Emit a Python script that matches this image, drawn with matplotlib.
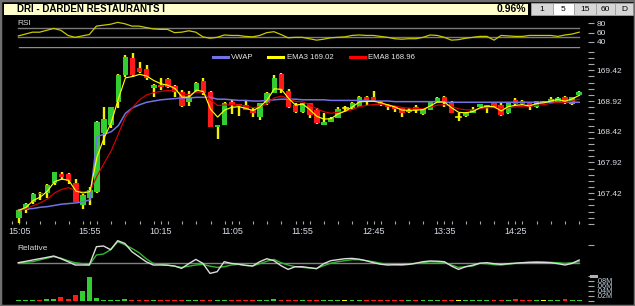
import matplotlib
matplotlib.use("Agg")
import matplotlib.pyplot as plt
from matplotlib.patches import Rectangle
import numpy as np

plt.rcParams['font.family'] = ['Liberation Sans', 'DejaVu Sans']

# ---------------- data ----------------
time_labels = ["15:05", "15:55", "10:15", "11:05", "11:55", "12:45", "13:35", "14:25"]
label_idx = [0, 10, 20, 30, 40, 50, 60, 70]

opens = [
    167.01, 167.14, 167.28, 167.43, 167.42, 167.59, 167.73, 167.73, 167.59, 167.23,
    167.34, 167.44, 168.40, 168.53, 168.90, 169.34, 169.62, 169.46, 169.44, 169.13,
    169.18, 169.28, 169.16, 169.07, 168.90, 169.08, 169.25, 169.07, 168.50, 168.53,
    168.90, 168.87, 168.86, 168.77, 168.66, 168.89, 169.05, 169.36, 169.08, 168.86,
    168.74, 168.89, 168.77, 168.53, 168.58, 168.64, 168.80, 168.81, 168.82, 168.99,
    168.99, 168.90, 168.86, 168.84, 168.81, 168.74, 168.82, 168.71, 168.77, 168.89,
    168.99, 168.90, 168.66, 168.68, 168.73, 168.82, 168.82, 168.89, 168.86, 168.72,
    168.94, 168.92, 168.89, 168.82, 168.90, 168.89, 168.90, 168.99, 168.87, 169.02]
closes = [
    167.14, 167.24, 167.41, 167.41, 167.55, 167.76, 167.69, 167.61, 167.28, 167.39,
    167.47, 168.58, 168.63, 168.82, 169.34, 169.64, 169.34, 169.39, 169.30, 169.18,
    169.15, 169.15, 169.07, 168.84, 168.99, 169.21, 169.05, 168.50, 168.53, 168.89,
    168.86, 168.84, 168.77, 168.73, 168.89, 169.05, 169.30, 169.10, 168.82, 168.74,
    168.89, 168.69, 168.56, 168.58, 168.64, 168.79, 168.80, 168.89, 168.99, 168.92,
    168.92, 168.87, 168.82, 168.79, 168.72, 168.77, 168.77, 168.79, 168.90, 168.97,
    168.90, 168.72, 168.66, 168.72, 168.77, 168.87, 168.86, 168.82, 168.69, 168.90,
    168.87, 168.87, 168.82, 168.92, 168.90, 168.95, 168.97, 168.89, 168.99, 169.07]
highs = [
    167.16, 167.26, 167.43, 167.44, 167.57, 167.77, 167.77, 167.75, 167.65, 167.41,
    167.52, 168.60, 168.82, 168.83, 169.36, 169.67, 169.70, 169.56, 169.51, 169.20,
    169.30, 169.30, 169.18, 169.10, 169.08, 169.23, 169.30, 169.08, 168.53, 168.90,
    168.94, 168.87, 168.94, 168.81, 168.89, 169.07, 169.34, 169.38, 169.12, 168.89,
    168.89, 168.89, 168.81, 168.72, 168.66, 168.82, 168.84, 168.90, 169.00, 169.00,
    169.08, 168.92, 168.87, 168.84, 168.81, 168.81, 168.86, 168.79, 168.92, 168.99,
    169.00, 168.92, 168.72, 168.74, 168.82, 168.87, 168.86, 168.90, 168.89, 168.90,
    168.97, 168.94, 168.89, 168.92, 168.92, 168.99, 168.99, 169.00, 168.99, 169.08]
lows = [
    166.93, 167.10, 167.24, 167.31, 167.34, 167.55, 167.63, 167.57, 167.27, 167.16,
    167.23, 167.42, 168.20, 168.48, 168.81, 169.31, 169.31, 169.38, 169.26, 168.99,
    169.10, 169.13, 168.99, 168.82, 168.84, 169.07, 169.02, 168.50, 168.30, 168.53,
    168.71, 168.68, 168.77, 168.66, 168.61, 168.86, 169.05, 169.05, 168.81, 168.73,
    168.73, 168.64, 168.55, 168.53, 168.58, 168.64, 168.74, 168.77, 168.82, 168.86,
    168.90, 168.84, 168.77, 168.74, 168.66, 168.72, 168.72, 168.69, 168.77, 168.89,
    168.82, 168.72, 168.59, 168.66, 168.72, 168.82, 168.72, 168.81, 168.68, 168.71,
    168.86, 168.86, 168.77, 168.81, 168.88, 168.89, 168.90, 168.87, 168.86, 169.01]

vwap = [
    167.15, 167.16, 167.17, 167.19, 167.20, 167.22, 167.24, 167.25, 167.26, 167.28,
    167.31, 168.34, 168.38, 168.42, 168.52, 168.72, 168.81, 168.86, 168.90, 168.92,
    168.94, 168.95, 168.96, 168.97, 168.97, 168.98, 168.98, 168.98, 168.95, 168.95,
    168.94, 168.93, 168.93, 168.92, 168.92, 168.93, 168.94, 168.95, 168.95, 168.95,
    168.94, 168.94, 168.94, 168.94, 168.93, 168.93, 168.93, 168.93, 168.93, 168.93,
    168.92, 168.92, 168.92, 168.91, 168.91, 168.91, 168.91, 168.91, 168.91, 168.91,
    168.90, 168.90, 168.90, 168.90, 168.90, 168.90, 168.90, 168.90, 168.90, 168.90,
    168.90, 168.90, 168.90, 168.90, 168.90, 168.90, 168.90, 168.90, 168.90, 168.90]

rsi = [
    53, 57, 61, 61, 65, 69, 65, 54, 50, 53,
    56, 74, 76, 78, 82, 79, 74, 74, 71, 68,
    67, 67, 60, 61, 64, 61, 51, 48, 50, 55,
    54, 54, 52, 51, 54, 60, 62, 56, 49, 50,
    50, 47, 44, 46, 49, 50, 51, 54, 55, 54,
    54, 52, 50, 47, 46, 47, 47, 50, 55, 54,
    50, 44, 45, 48, 50, 52, 52, 44, 54, 53,
    52, 52, 54, 54, 54, 54, 52, 55, 57, 61]

rel_stock = [
    0.00, 0.13, 0.27, 0.40, 0.53, 0.67, 0.40, 0.10, -0.23, -0.23,
    -0.23, 1.60, 1.67, 1.30, 2.20, 1.93, 1.10, 0.60, 0.10, -0.23,
    -0.23, -0.25, -0.33, -0.57, -0.10, 0.33, -0.07, -1.07, -0.90, 0.10,
    -0.07, -0.15, -0.27, -0.33, 0.10, 0.40, 0.20, -0.30, -0.67, -0.40,
    -0.40, -0.50, -0.60, -0.10, 0.20, 0.30, 0.40, 0.43, 0.35, 0.20,
    0.00, -0.15, -0.23, -0.20, -0.20, -0.17, -0.05, 0.10, 0.17, 0.15,
    0.10, -0.33, -0.67, -0.40, -0.25, -0.05, 0.00, -0.10, -0.17, -0.10,
    -0.05, 0.00, 0.03, 0.03, 0.02, 0.00, -0.10, -0.23, -0.07, 0.27]
rel_index = [
    0.00, 0.05, 0.10, 0.27, 0.45, 0.60, 0.45, 0.20, 0.00, -0.10,
    -0.23, 0.77, 0.87, 1.30, 2.10, 1.80, 1.43, 1.00, 0.40, -0.07,
    -0.15, -0.25, -0.35, -0.47, -0.35, -0.23, -0.17, -0.35, -0.47, -0.40,
    -0.23, -0.17, -0.25, -0.33, -0.10, 0.15, 0.33, 0.00, -0.23, -0.40,
    -0.47, -0.53, -0.58, -0.30, -0.05, 0.10, 0.20, 0.30, 0.30, 0.20,
    0.10, -0.05, -0.17, -0.20, -0.23, -0.15, -0.07, 0.00, 0.10, 0.07,
    0.03, -0.23, -0.47, -0.40, -0.33, -0.07, -0.10, -0.20, -0.23, -0.15,
    -0.07, 0.00, 0.05, 0.10, 0.08, 0.03, 0.00, -0.07, 0.00, 0.10]

volume_m = [
    0.004, 0.004, 0.004, 0.004, 0.008, 0.008, 0.013, 0.008, 0.024, 0.037,
    0.096, 0.012, 0.004, 0.004, 0.004, 0.008, 0.004, 0.004, 0.004, 0.004,
    0.004, 0.004, 0.004, 0.004, 0.004, 0.004, 0.004, 0.004, 0.004, 0.004,
    0.004, 0.004, 0.004, 0.004, 0.004, 0.004, 0.008, 0.004, 0.004, 0.004,
    0.004, 0.004, 0.004, 0.004, 0.004, 0.004, 0.004, 0.004, 0.004, 0.004,
    0.004, 0.004, 0.004, 0.004, 0.004, 0.004, 0.004, 0.004, 0.004, 0.004,
    0.004, 0.004, 0.004, 0.004, 0.004, 0.004, 0.004, 0.004, 0.004, 0.004,
    0.007, 0.004, 0.004, 0.004, 0.004, 0.004, 0.004, 0.007, 0.004, 0.004]

price_ticks_labeled = [167.42, 167.92, 168.42, 168.92, 169.42]
vol_ticks = [0.02, 0.04, 0.06, 0.08]
vol_tick_labels = [".02M", ".04M", ".06M", ".08M"]
legend_labels = ["VWAP", "EMA3 169.02", "EMA8 168.96"]
title = "DRI - DARDEN RESTAURANTS I"
change_text = "0.96%"
buttons = ["1", "5", "15", "60", "D"]

# ---------------- derived ----------------
def ema(vals, n):
    a = 2.0 / (n + 1)
    out = [vals[0]]
    for v in vals[1:]:
        out.append(out[-1] + a * (v - out[-1]))
    return out

ema3 = ema(closes, 3)
ema8 = ema(closes, 8)
N = len(closes)
idx = np.arange(N)

# ---------------- figure ----------------
W, H = 635, 306
fig = plt.figure(figsize=(W / 100, H / 100), dpi=100, facecolor='black')

def rect(l, t, r, b):
    return [l / W, 1 - b / H, (r - l) / W, (b - t) / H]

XL = (-0.89, 80.24)
TICKC = '#A8A8A8'
LBLC = '#D8DCE4'

def style(ax):
    ax.set_facecolor('black')
    for s in ax.spines.values():
        s.set_visible(False)
    ax.set_xlim(*XL)

# ---- main price axes ----
ax = fig.add_axes(rect(12, 47, 588, 224))
style(ax)
ylo, yhi = 166.917, 169.800
ax.set_ylim(ylo, yhi)

GREEN = '#33CC33'
RED = '#FF1A1A'
for i in range(N):
    o, c, h, l = opens[i], closes[i], highs[i], lows[i]
    ax.plot([i, i], [l, h], color='#F0F000', lw=1.7, solid_capstyle='butt', zorder=2)
    if c > o:
        ax.bar(i, c - o, bottom=o, width=0.78, color=GREEN, zorder=3, linewidth=0)
    elif c < o:
        ax.bar(i, o - c, bottom=c, width=0.78, color=RED, zorder=3, linewidth=0)
    else:
        ax.plot([i - 0.35, i + 0.35], [o, o], color='#F0F000', lw=1.2, zorder=3)

ax.plot(idx, vwap, color='#7272E6', lw=1.1, zorder=4)
ax.plot(idx, ema8, color='#D80000', lw=0.85, zorder=5)
ax.plot(idx, ema3, color='#FFFF00', lw=0.85, zorder=6)
ax.plot([0, N - 1], [yhi, yhi], color='#8C8C8C', lw=1.0, clip_on=False, zorder=7)

ax.yaxis.tick_right()
all_ticks = np.round(np.arange(166.92, 169.80, 0.1), 2)
ax.set_yticks(all_ticks)
ax.set_yticklabels([("%.2f" % t) if any(abs(t - p) < 1e-6 for p in price_ticks_labeled) else ""
                    for t in all_ticks])
ax.tick_params(axis='y', direction='out', length=4.5, width=0.8, color=TICKC,
               labelcolor=LBLC, labelsize=6, pad=1.5)
ax.set_xticks(label_idx)
ax.set_xticklabels(time_labels)
ax.set_xticks(np.arange(-1, 80, 2), minor=True)
ax.tick_params(axis='x', which='both', direction='in', length=2.5, width=0.8,
               color=TICKC, labelcolor=LBLC, labelsize=6.5, pad=2.5)

# legend (manual)
lx = [(213, 228, 231), (268, 283, 287), (350, 365, 368)]
lcol = ['#7272E6', '#FFFF00', '#FF0000']
for (x0, x1, xt), col, lab in zip(lx, lcol, legend_labels):
    fig.add_artist(plt.Line2D([x0 / W, x1 / W], [1 - 57.3 / H, 1 - 57.3 / H], color=col, lw=2.2))
    fig.text(xt / W, 1 - 57.3 / H, lab, color='#E8E8E8', fontsize=5.6, va='center', ha='left')

# ---- RSI axes ----
axr = fig.add_axes(rect(12, 19, 588, 47))
style(axr)
axr.set_ylim(29.3, 89.2)
axr.plot([0, N - 1], [70, 70], color='#7A7A7A', lw=1.0)
axr.plot([0, N - 1], [50, 50], color='#7A7A7A', lw=1.0)
axr.plot(idx, rsi, color='#C8C800', lw=0.9)
axr.yaxis.tick_right()
axr.set_yticks([80, 60, 40])
axr.set_yticklabels(["80", "60", "40"])
axr.set_xticks([])
axr.tick_params(axis='y', direction='out', length=4.5, width=0.8, color=TICKC,
                labelcolor=LBLC, labelsize=6, pad=1.5)
fig.text(17 / W, 1 - 23.5 / H, "RSI", color='#D8D8D8', fontsize=6, va='center', ha='left')

# ---- Relative axes ----
axl = fig.add_axes(rect(12, 235, 588, 300.5))
style(axl)
axl.set_ylim(-3.78, 2.77)
axl.plot([0, N - 1], [0, 0], color='#808080', lw=1.0)
axl.plot(idx, rel_index, color='#2EB82E', lw=1.0)
axl.plot(idx, rel_stock, color='#DCDCDC', lw=1.0)
axl.set_xticks([])
axl.yaxis.tick_right()
axl.set_yticks([1.77])
axl.set_yticklabels([""])
axl.tick_params(axis='y', direction='out', length=4.5, width=0.8, color=TICKC)
fig.text(17 / W, 1 - 248.5 / H, "Relative", color='#D8D8D8', fontsize=6, va='center', ha='left')

# ---- Volume axes ----
axv = fig.add_axes(rect(12, 235, 588, 300.5), facecolor='none')
for s in axv.spines.values():
    s.set_visible(False)
axv.set_xlim(*XL)
axv.set_ylim(0, (300.5 - 235) / 250.0)
vcols = [GREEN if c > o else (RED if c < o else '#FFFF00') for o, c in zip(opens, closes)]
axv.bar(idx, volume_m, width=0.7, color=vcols, linewidth=0)
axv.set_xticks([])
axv.yaxis.tick_right()
axv.set_yticks([0.0] + vol_ticks + [0.10])
axv.set_yticklabels([""] + vol_tick_labels + [""])
axv.tick_params(axis='y', direction='out', length=4.5, width=0.8, color=TICKC,
                labelcolor='#C8D4E4', labelsize=5.2, pad=1.5)
axv.plot([1.005, 1.0135], [0.10, 0.10], transform=axv.get_yaxis_transform(),
         color='#B0B0B0', lw=2.2, clip_on=False)

# ---- title bar ----
fig.add_artist(Rectangle((4 / W, 1 - 15 / H), 524 / W, 11.5 / H, transform=fig.transFigure,
                         facecolor='#FFFFCC', edgecolor='none'))
fig.text(17 / W, 1 - 9.5 / H, title, color='black', fontsize=7, fontweight='bold',
         va='center', ha='left')
fig.text(526 / W, 1 - 9.5 / H, change_text, color='black', fontsize=7.5, fontweight='bold',
         va='center', ha='right')
bx = [531, 553, 574, 596, 615, 633]
for k, lab in enumerate(buttons):
    fc = '#FFFFFF' if lab == "5" else '#D6D6D6'
    fig.add_artist(Rectangle((bx[k] / W, 1 - 15 / H), (bx[k + 1] - bx[k]) / W, 12 / H,
                             transform=fig.transFigure, facecolor=fc, edgecolor='#A0A0A0', lw=0.6))
    fig.text((bx[k] + bx[k + 1]) / 2 / W, 1 - 9.5 / H, lab, color='black', fontsize=6,
             va='center', ha='center')

# outer border
fig.add_artist(Rectangle((0, 0), 1, 1, transform=fig.transFigure, facecolor='none',
                         edgecolor='#707070', lw=2.5))

fig.savefig("out.png", dpi=100, facecolor='black')
